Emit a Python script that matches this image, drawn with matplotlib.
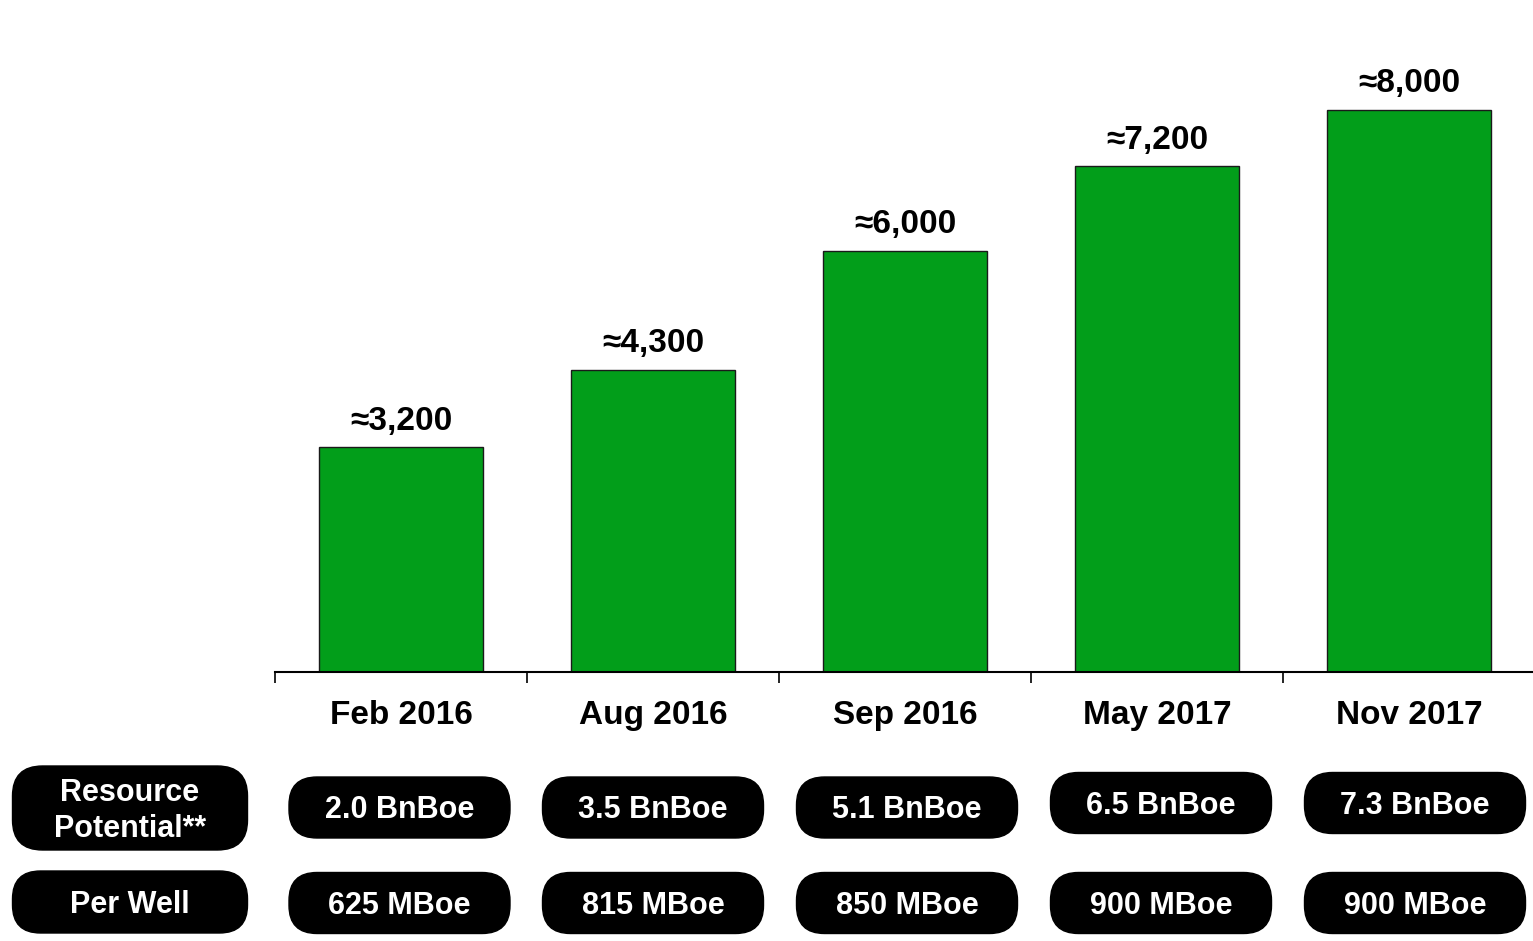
import matplotlib
matplotlib.use("Agg")
import matplotlib.pyplot as plt
from matplotlib.patches import FancyBboxPatch

plt.rcParams["font.family"] = ["Liberation Sans", "DejaVu Sans"]
plt.rcParams["font.weight"] = "bold"

# data
periods = ["Feb 2016", "Aug 2016", "Sep 2016", "May 2017", "Nov 2017"]
wells = [3200, 4300, 6000, 7200, 8000]
well_labels = ["≈3,200", "≈4,300", "≈6,000", "≈7,200", "≈8,000"]
resource = ["2.0 BnBoe", "3.5 BnBoe", "5.1 BnBoe", "6.5 BnBoe", "7.3 BnBoe"]
per_well = ["625 MBoe", "815 MBoe", "850 MBoe", "900 MBoe", "900 MBoe"]
row_titles = ["Resource\nPotential**", "Per Well"]

W, H = 1533, 941
fig = plt.figure(figsize=(W / 100, H / 100), dpi=100)

# bar chart, placed in pixel terms
ax = fig.add_axes([275 / W, (H - 672) / H, (W - 275) / W, 672 / H])
x = list(range(len(periods)))
ax.bar(x, wells, width=0.65, color="#029E1A", edgecolor="#1a1a1a", linewidth=1.0)
for xi, v, lab in zip(x, wells, well_labels):
    ax.text(xi, v + 150, lab, ha="center", va="bottom", fontsize=24, fontweight="bold")
ax.set_xlim(-0.5, 4.492)
ax.set_ylim(0, 9566)
for s in ["top", "right", "left"]:
    ax.spines[s].set_visible(False)
ax.spines["bottom"].set_linewidth(1.5)
ax.set_yticks([])
ax.set_xticks([-0.5, 0.5, 1.5, 2.5, 3.5])
ax.set_xticklabels([])
ax.tick_params(axis="x", length=8, width=1.2, direction="out")
for xi, p in zip(x, periods):
    ax.text(xi, -400, p, ha="center", va="top", fontsize=24, fontweight="bold")

# rounded label boxes underneath
ov = fig.add_axes([0, 0, 1, 1])
ov.set_xlim(0, W)
ov.set_ylim(H, 0)
ov.axis("off")


def pill(cx, cy, w, h, text, size=22, r=28):
    ov.add_patch(FancyBboxPatch((cx - w / 2 + r, cy - h / 2 + r), w - 2 * r, max(h - 2 * r, 0.1),
                                boxstyle=f"round,pad={r}", fc="black", ec="black", lw=1))
    ov.text(cx, cy + 3, text, ha="center", va="center", color="white",
            fontsize=size, fontweight="bold", linespacing=1.25)


pill(130, 808, 235, 84, row_titles[0], r=30)
pill(130, 902, 235, 62, row_titles[1], r=28)
row1_cx = [399.5, 653, 907, 1161, 1415]
row1_cy = [807.5, 807.5, 807.5, 803, 803]
row2_cy = [903, 903, 903, 903, 903]
for cx, cy, t in zip(row1_cx, row1_cy, resource):
    pill(cx, cy, 221, 61, t)
for cx, cy, t in zip(row1_cx, row2_cy, per_well):
    pill(cx, cy, 221, 61, t)

fig.savefig("out.png", dpi=100)
